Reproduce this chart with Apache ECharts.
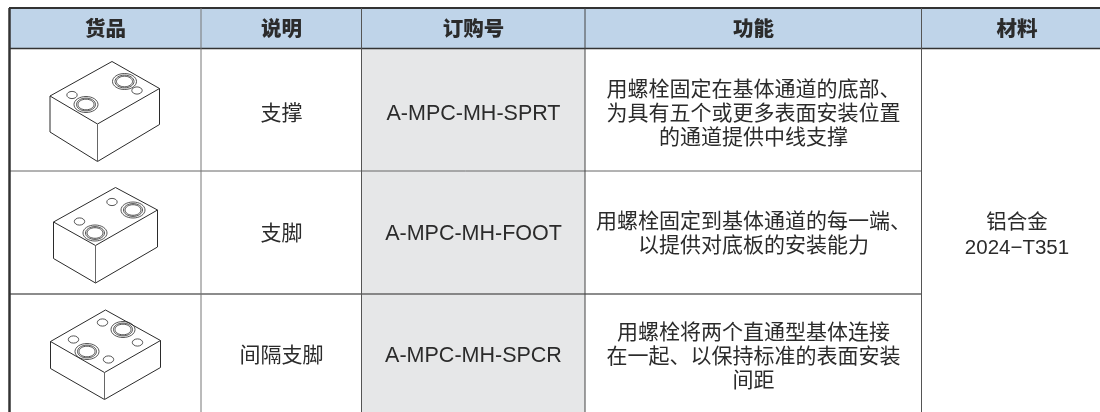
<!DOCTYPE html>
<html>
<head>
<meta charset="utf-8">
<title>货品</title>
<style>
html, body { margin: 0; padding: 0; background: #fff; }
#main { width: 1100px; height: 412px; }
</style>
<script src="https://cdn.jsdelivr.net/npm/echarts@6/dist/echarts.min.js"></script>
</head>
<body>
<div id="main"></div>
<script>
// table content
var headers = ['货品', '说明', '订购号', '功能', '材料'];
var descriptions = ['支撑', '支脚', '间隔支脚'];
var orderNumbers = ['A-MPC-MH-SPRT', 'A-MPC-MH-FOOT', 'A-MPC-MH-SPCR'];
var functions = [
    '用螺栓固定在基体通道的底部、\n为具有五个或更多表面安装位置\n的通道提供中线支撑',
    '用螺栓固定到基体通道的每一端、\n以提供对底板的安装能力',
    '用螺栓将两个直通型基体连接\n在一起、以保持标准的表面安装\n间距'
];
var material = '铝合金\n2024−T351';

// table layout, in pixels of the axes below
var colEdges = [9.5, 201, 361.5, 585, 921.5, 1100];
var colMid = [105.5, 281.5, 473.5, 753.5, 1017];
var headTop = 8, headBottom = 48.5;
var rowEdges = [48.5, 171, 294, 412];
var rowMid = [114, 234, 356];
var funcMid = [114, 234, 357];
var materialMid = 236;

// isometric drawings: top, right, front, left, left-bottom, right-bottom, bottom corners
var blocks = [
    { c: [[112, 61.5], [159.5, 88.5], [97.5, 124], [50, 96], [50, 132], [159.5, 124.5], [97.5, 161.5]],
      big: [[86, 104.5], [124.5, 81.5]],
      small: [[72, 95], [137, 90.5]] },
    { c: [[115.5, 187.5], [157.5, 210], [95.5, 245.5], [53.5, 222], [53.5, 258.5], [157.5, 247], [95.5, 283]],
      big: [[95, 233], [133, 210]],
      small: [[79.5, 221.5], [112, 202]] },
    { c: [[105.5, 310], [160.5, 340.5], [104.5, 372.5], [50.5, 341.5], [50.5, 368.5], [160.5, 367.5], [104.5, 399.5]],
      big: [[87, 351.5], [123, 329.5]],
      small: [[102.5, 322.5], [73.5, 339.5], [137.5, 342.5], [108.5, 359.5]] }
];

var CJK = '"Liberation Sans", "Noto Sans CJK SC", sans-serif';
var TEXT_COLOR = '#2b2b2b';

var myChart = echarts.init(document.getElementById('main'));

function line(api, x1, y1, x2, y2, color, width) {
    var a = api.coord([x1, y1]), b = api.coord([x2, y2]);
    return {
        type: 'line',
        shape: { x1: a[0], y1: a[1], x2: b[0], y2: b[1] },
        style: { stroke: color, lineWidth: width }
    };
}

function box(api, x1, y1, x2, y2, color) {
    var a = api.coord([x1, y1]), b = api.coord([x2, y2]);
    return {
        type: 'rect',
        shape: { x: a[0], y: a[1], width: b[0] - a[0], height: b[1] - a[1] },
        style: { fill: color }
    };
}

function label(api, str, x, y, size, weight, lineHeight) {
    var p = api.coord([x, y]);
    return {
        type: 'text',
        style: {
            text: str, x: p[0], y: p[1],
            align: 'center', verticalAlign: 'middle',
            fill: TEXT_COLOR,
            fontFamily: CJK, fontSize: size, fontWeight: weight,
            lineHeight: lineHeight
        }
    };
}

function ring(api, c, rx, ry, width) {
    var p = api.coord(c);
    return {
        type: 'ellipse',
        shape: { cx: p[0], cy: p[1], rx: rx, ry: ry },
        style: { fill: 'none', stroke: '#2b2b2b', lineWidth: width }
    };
}

// fills, grid lines and all the text of the table
function renderTable(params, api) {
    var kids = [];
    var i;
    kids.push(box(api, colEdges[0], headTop, 1100, headBottom, '#bfd4e9'));
    kids.push(box(api, colEdges[2], headBottom, colEdges[3], 412, '#e6e7e8'));

    kids.push(line(api, 9, headTop, 1100, headTop, '#333', 2));
    kids.push(line(api, colEdges[0], headBottom, 1100, headBottom, '#333', 1.5));
    kids.push(line(api, colEdges[0], rowEdges[1], colEdges[4], rowEdges[1], '#666', 1));
    kids.push(line(api, colEdges[0], rowEdges[2], colEdges[4], rowEdges[2], '#666', 1.5));
    kids.push(line(api, colEdges[0], headTop, colEdges[0], 412, '#333', 2.5));
    kids.push(line(api, colEdges[1], headTop, colEdges[1], 412, '#777', 1));
    kids.push(line(api, colEdges[2], headTop, colEdges[2], 412, '#555', 1));
    kids.push(line(api, colEdges[3], headTop, colEdges[3], 412, '#444', 1));
    kids.push(line(api, colEdges[4], headTop, colEdges[4], 412, '#555', 1));

    for (i = 0; i < headers.length; i++) {
        kids.push(label(api, headers[i], colMid[i], 30, 20.5, 900, 24));
    }
    for (i = 0; i < descriptions.length; i++) {
        kids.push(label(api, descriptions[i], colMid[1], rowMid[i], 21, 400, 24));
        kids.push(label(api, orderNumbers[i], colMid[2], rowMid[i], 21.5, 400, 24));
        kids.push(label(api, functions[i], colMid[3], funcMid[i], 21, 400, 24));
    }
    kids.push(label(api, material, colMid[4], materialMid, 20.5, 400, 24.5));
    return { type: 'group', children: kids };
}

// one block drawing per row
function renderBlock(params, api) {
    var b = blocks[params.dataIndex];
    var c = b.c;
    var kids = [];
    var edges = [[0, 1], [1, 2], [2, 3], [3, 0], [3, 4], [4, 6], [6, 5], [5, 1]];
    $each(edges, function (e) {
        kids.push(line(api, c[e[0]][0], c[e[0]][1], c[e[1]][0], c[e[1]][1], '#2b2b2b', 1));
    });
    kids.push(line(api, c[2][0], c[2][1], c[6][0], c[6][1], '#666', 1));
    $each(b.big, function (p) {
        kids.push(ring(api, p, 12, 8, 0.8));
        kids.push(ring(api, p, 9.5, 6.4, 0.8));
        kids.push(ring(api, p, 8, 5.3, 0.8));
    });
    $each(b.small, function (p) {
        kids.push(ring(api, p, 5.2, 3.6, 0.8));
    });
    return { type: 'group', children: kids };
}

function $each(arr, fn) {
    for (var i = 0; i < arr.length; i++) {
        fn(arr[i]);
    }
}

myChart.setOption({
    animation: false,
    backgroundColor: '#fff',
    grid: { left: 0, right: 0, top: 0, bottom: 0 },
    xAxis: { type: 'value', min: 0, max: 1100, show: false },
    yAxis: { type: 'value', min: 0, max: 412, inverse: true, show: false },
    series: [
        {
            type: 'custom',
            coordinateSystem: 'cartesian2d',
            data: [[0, 0]],
            clip: false,
            silent: true,
            renderItem: renderTable
        },
        {
            type: 'custom',
            coordinateSystem: 'cartesian2d',
            data: [[0, 0], [0, 1], [0, 2]],
            clip: false,
            silent: true,
            renderItem: renderBlock
        }
    ]
});
</script>
</body>
</html>
